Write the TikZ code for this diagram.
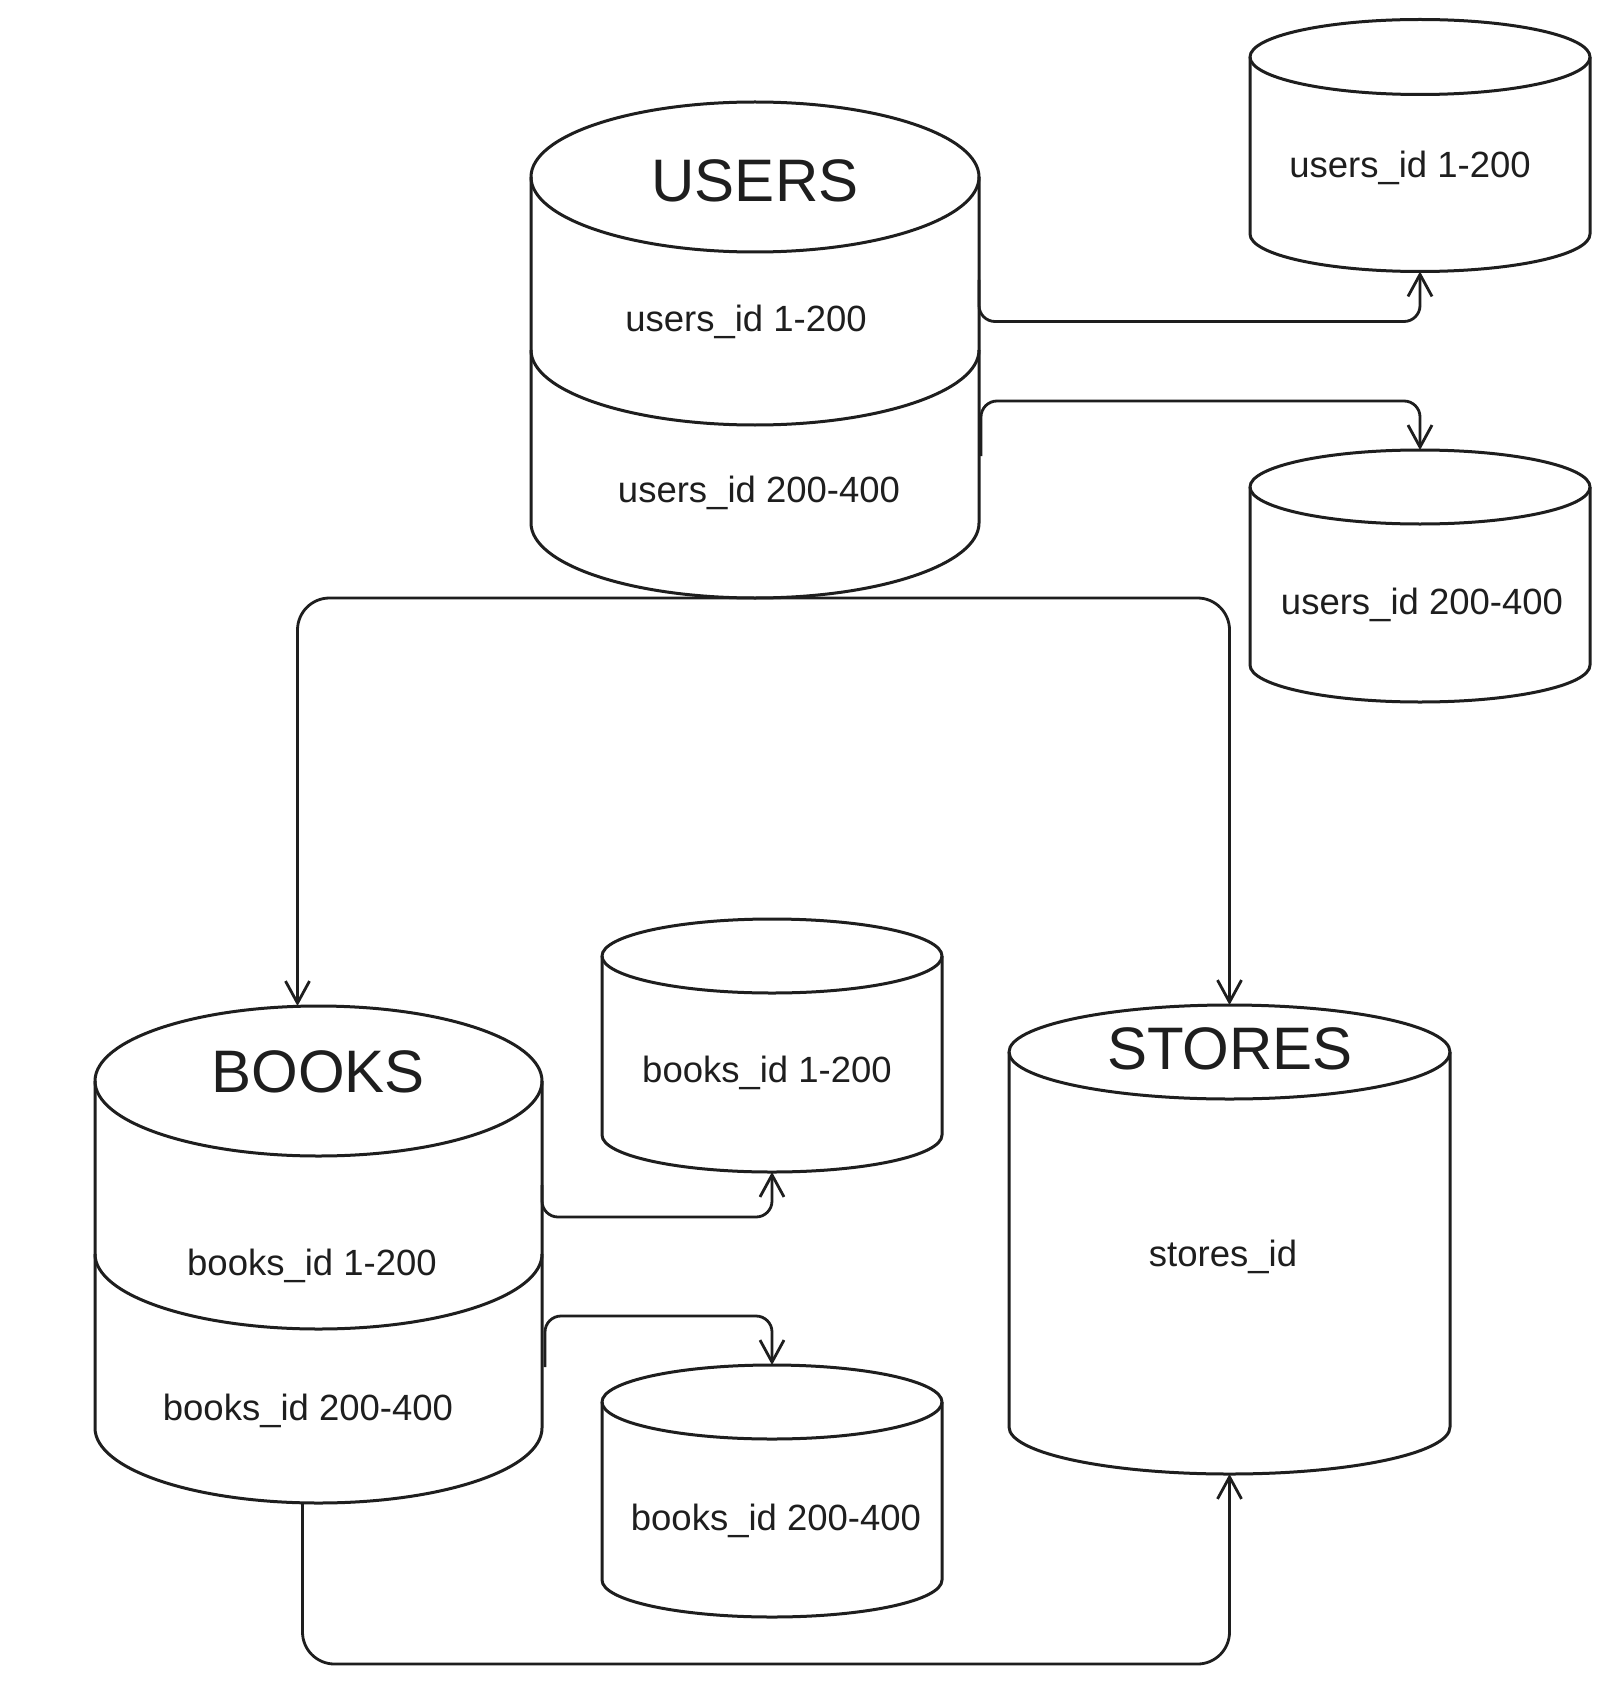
\documentclass[tikz,border=0pt]{standalone}
\usepackage{fontspec}
\setmainfont{Liberation Sans}
\usetikzlibrary{arrows.meta,calc}
\definecolor{ink}{HTML}{1E1E1E}
\newcommand{\dbbody}[5]{%
  \draw[db] (#1-#4,#2) -- (#1-#4,#3) arc[start angle=180,end angle=0,x radius=#4,y radius=#5] -- (#1+#4,#2);
  \draw[db] (#1,#2) ellipse[x radius=#4,y radius=#5];}
\newcommand{\dbdiv}[4]{\draw[db] (#1-#3,#2) arc[start angle=180,end angle=0,x radius=#3,y radius=#4];}
\begin{document}
\begin{tikzpicture}[x=1pt,y=-1pt,
  db/.style={draw=ink, line width=3pt, line join=round},
  conn/.style={draw=ink, line width=2.8pt, rounded corners=16pt, -{Straight Barb[length=22pt,width=24pt]}},
  bigconn/.style={conn, rounded corners=32pt},
  title/.style={text=ink, font=\fontsize{60}{70}\selectfont, inner sep=0pt},
  lbl/.style={text=ink, font=\fontsize{36.5}{42}\selectfont, inner sep=0pt},
  anchorbox/.style={inner sep=0pt, outer sep=0pt, draw=none}]
\fill[white] (0,0) rectangle (1612,1685);
\useasboundingbox (0,0) rectangle (1612,1685);

% USERS
\dbbody{755}{177}{523}{224}{75}
\dbdiv{755}{350}{224}{75}
\node[anchorbox, minimum width=448pt, minimum height=496pt] (users) at (755,350) {};
% small user shards
\dbbody{1420}{57}{234}{170}{37.5}
\node[anchorbox, minimum width=340pt, minimum height=252pt] (u1) at (1420,145.5) {};
\dbbody{1420}{487}{665}{170}{37}
\node[anchorbox, minimum width=340pt, minimum height=252pt] (u2) at (1420,576) {};
% BOOKS
\dbbody{318.5}{1081}{1428}{223.5}{75}
\dbdiv{318.5}{1254}{223.5}{75}
\node[anchorbox, minimum width=447pt, minimum height=497pt] (books) at (318.5,1254.5) {};
% small book shards
\dbbody{772}{956}{1135}{170}{37}
\node[anchorbox, minimum width=340pt, minimum height=253pt] (b1) at (772,1045.5) {};
\dbbody{772}{1402}{1580}{170}{37}
\node[anchorbox, minimum width=340pt, minimum height=252pt] (b2) at (772,1491) {};
% STORES
\dbbody{1229.5}{1052}{1427}{220.5}{47}
\node[anchorbox, minimum width=441pt, minimum height=469pt] (stores) at (1229.5,1239.5) {};

% texts
\node[title] (usersT) at (755,181) {USERS};
\node[lbl] (usersA) at (746,322) {users\_id 1-200};
\node[lbl] (usersB) at (759,493) {users\_id 200-400};
\node[lbl] (u1T) at (1410,168) {users\_id 1-200};
\node[lbl] (u2T) at (1422,605) {users\_id 200-400};
\node[title] (booksT) at (318,1072) {BOOKS};
\node[lbl] (booksA) at (312,1266) {books\_id 1-200};
\node[lbl] (booksB) at (308,1411) {books\_id 200-400};
\node[lbl] (b1T) at (767,1073) {books\_id 1-200};
\node[lbl] (b2T) at (776,1521) {books\_id 200-400};
\node[title] (storesT) at (1230,1049) {STORES};
\node[lbl] (storesA) at (1223,1257) {stores\_id};

% connectors
\coordinate (u1src) at (979,280);
\coordinate (u2src) at (981,456);
\coordinate (b1src) at (542,1185);
\coordinate (b2src) at (545,1367);
\draw[conn] (u1src) |- ($(u1.south)+(0,50)$) -- (u1.south);
\draw[conn] (u2src) |- ($(u2.north)+(0,-49)$) -- (u2.north);
\draw[bigconn] (users.south) -| ($(books.north)+(-21,0)$);
\draw[bigconn] (users.south) -| (stores.north);
\draw[conn] (b1src) |- ($(b1.south)+(0,45)$) -- (b1.south);
\draw[conn] (b2src) |- ($(b2.north)+(0,-49)$) -- (b2.north);
\draw[bigconn] ($(books.south)+(-16,0)$) |- ($(stores.south)+(0,190)$) -- (stores.south);
\end{tikzpicture}
\end{document}
